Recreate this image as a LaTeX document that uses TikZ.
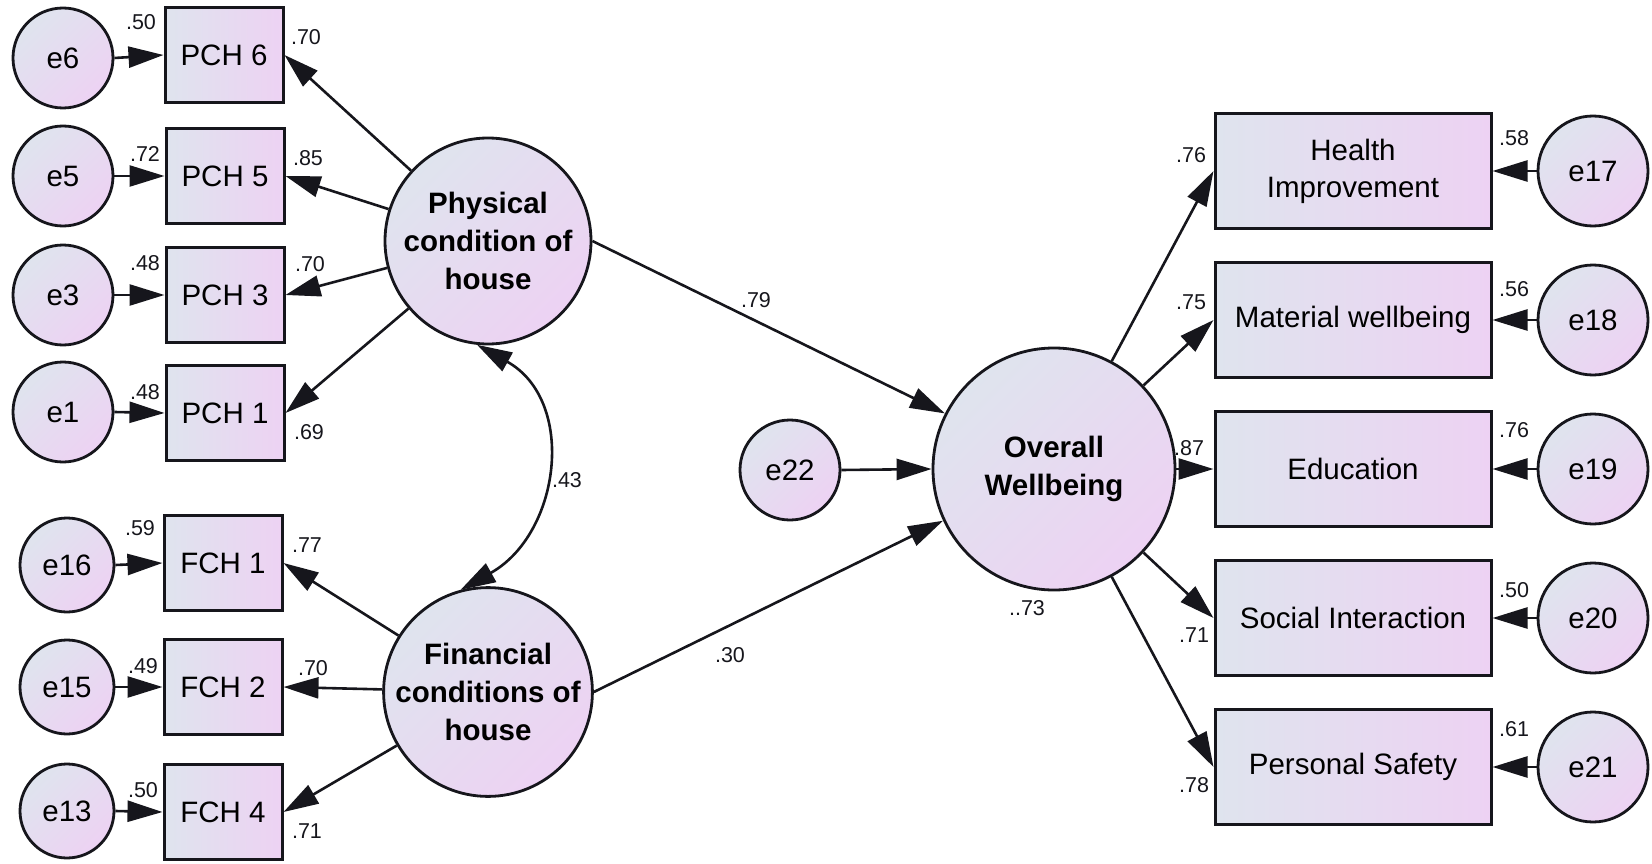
\documentclass[tikz,border=0pt]{standalone}
\usepackage{fontspec}
\setmainfont{Liberation Sans}
\usetikzlibrary{arrows.meta}

\definecolor{fillA}{RGB}{223,228,238}
\definecolor{fillB}{RGB}{237,210,243}
\definecolor{ink}{RGB}{22,22,28}

\tikzset{
  box/.style={draw=ink, line width=3pt, rectangle, inner sep=0pt,
    left color=fillA, right color=fillB, align=center,
    font=\fontsize{29.5}{37}\selectfont},
  lbox/.style={box, minimum width=118pt, minimum height=95pt},
  rbox/.style={box, minimum width=276pt, minimum height=115pt},
  blob/.style={draw=ink, line width=2.8pt, circle, inner sep=0pt,
    top color=fillA, bottom color=fillB, shading angle=45, align=center,
    font=\fontsize{29.5}{37}\selectfont},
  err/.style={blob, minimum size=#1},
  latent/.style={blob, minimum size=#1, font=\fontsize{29.5}{38}\selectfont\bfseries},
  tip/.tip={Triangle[length=35pt,width=21pt]},
  arr/.style={draw=ink, line width=2.6pt, -tip},
  cov/.style={draw=ink, line width=2.6pt, tip-tip},
  num/.style={inner sep=0pt, font=\fontsize{21.5}{24}\selectfont, text=ink},
}

\begin{document}
\begin{tikzpicture}[x=1pt,y=-1pt]
\useasboundingbox (0,0) rectangle (1652,864);

% indicators of the physical condition factor
\node[err=100pt] (e6) at (63,58) {e6};
\node[err=100pt] (e5) at (63,176) {e5};
\node[err=100pt] (e3) at (63,295) {e3};
\node[err=100pt] (e1) at (63,412) {e1};
\node[lbox] (pch6) at (224,55) {PCH 6};
\node[lbox] (pch5) at (225,176) {PCH 5};
\node[lbox] (pch3) at (225,295) {PCH 3};
\node[lbox] (pch1) at (225,413) {PCH 1};

% indicators of the financial condition factor
\node[err=94pt] (e16) at (67,565) {e16};
\node[err=94pt] (e15) at (67,687) {e15};
\node[err=94pt] (e13) at (67,811) {e13};
\node[lbox] (fch1) at (223,563) {FCH 1};
\node[lbox] (fch2) at (223,687) {FCH 2};
\node[lbox] (fch4) at (223,812) {FCH 4};

% latent variables
\node[latent=206pt] (phys) at (488,241) {Physical\\condition of\\house};
\node[latent=206pt] (fin) at (488,692) {Financial\\conditions of\\house};
\node[latent=242pt] (ow) at (1054,469) {Overall\\Wellbeing};
\node[err=100pt] (e22) at (790,470) {e22};

% outcome indicators
\node[rbox] (hi) at (1353,171) {Health\\Improvement};
\node[rbox] (mw) at (1353,320) {Material wellbeing};
\node[rbox] (ed) at (1353,469) {Education};
\node[rbox] (si) at (1353,618) {Social Interaction};
\node[rbox] (ps) at (1353,767) {Personal Safety};
\node[err=110pt] (e17) at (1593,171) {e17};
\node[err=110pt] (e18) at (1593,320) {e18};
\node[err=110pt] (e19) at (1593,469) {e19};
\node[err=110pt] (e20) at (1593,618) {e20};
\node[err=110pt] (e21) at (1593,767) {e21};

% error paths
\foreach \a/\b in {e6/pch6,e5/pch5,e3/pch3,e1/pch1,e16/fch1,e15/fch2,e13/fch4}
  \draw[arr] (\a.east) -- (\b.west);
\foreach \a/\b in {e17/hi,e18/mw,e19/ed,e20/si,e21/ps}
  \draw[arr] (\a.west) -- (\b.east);
\draw[arr] (e22.east) -- (ow.west);

% loadings
\foreach \b in {pch6,pch5,pch3,pch1}
  \draw[arr] (phys) -- (\b.east);
\foreach \b in {fch1,fch2,fch4}
  \draw[arr] (fin) -- (\b.east);
\foreach \b in {hi,mw,ed,si,ps}
  \draw[arr] (ow) -- (\b.west);

% structural paths
\draw[arr] (phys.east) -- (ow.153);
\draw[arr] (fin.east) -- (ow.205);

% factor covariance
\draw[cov] (phys.264) .. controls +(100,56) and +(100,-56) .. (fin.105);

% estimates
\node[num] (l1) at (141,22) {.50};
\node[num] (l2) at (306,37) {.70};
\node[num] (l3) at (145,154) {.72};
\node[num] (l4) at (308,158) {.85};
\node[num] (l5) at (145,263) {.48};
\node[num] (l6) at (310,264) {.70};
\node[num] (l7) at (145,392) {.48};
\node[num] (l8) at (309,432) {.69};
\node[num] (l9) at (567,480) {.43};
\node[num] (l10) at (140,528) {.59};
\node[num] (l11) at (307,545) {.77};
\node[num] (l12) at (143,666) {.49};
\node[num] (l13) at (313,668) {.70};
\node[num] (l14) at (143,790) {.50};
\node[num] (l15) at (307,831) {.71};
\node[num] (l16) at (756,300) {.79};
\node[num] (l17) at (730,655) {.30};
\node[num] (l18) at (1027,608) {..73};
\node[num] (l19) at (1191,155) {.76};
\node[num] (l20) at (1191,302) {.75};
\node[num] (l21) at (1189,448) {.87};
\node[num] (l22) at (1194,635) {.71};
\node[num] (l23) at (1194,785) {.78};
\node[num] (l24) at (1514,138) {.58};
\node[num] (l25) at (1514,289) {.56};
\node[num] (l26) at (1514,430) {.76};
\node[num] (l27) at (1514,590) {.50};
\node[num] (l28) at (1514,729) {.61};
\end{tikzpicture}
\end{document}
